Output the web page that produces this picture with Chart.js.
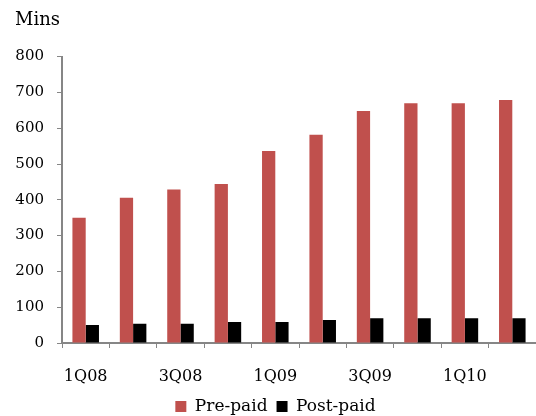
<!DOCTYPE html>
<html>
<head>
  <title>Mins per user</title>
  <script src="https://cdn.jsdelivr.net/npm/chart.js"></script>
  <style>
    body { margin: 0; padding: 0; background: #ffffff; }
    #wrap { width: 536px; height: 416px; }
  </style>
</head>
<body>
  <div id="wrap">
    <canvas id="minsChart" width="536" height="416"></canvas>
  </div>
  <script>
    // quarters
    const quarters = ["1Q08", "2Q08", "3Q08", "4Q08", "1Q09", "2Q09", "3Q09", "4Q09", "1Q10", "2Q10"];
    // minutes per user
    const prePaid = [350, 406, 429, 444, 536, 582, 648, 670, 670, 679];
    const postPaid = [50, 54, 54, 59, 59, 64, 69, 69, 69, 69];
    const yTicks = [0, 100, 200, 300, 400, 500, 600, 700, 800];

    const axisGrey = "#868686";
    const family = "'DejaVu Serif', serif";

    const ctx = document.getElementById("minsChart").getContext("2d");
    new Chart(ctx, {
      type: "bar",
      data: {
        labels: quarters,
        datasets: [
          {
            label: "Pre-paid",
            data: prePaid,
            backgroundColor: "#C0504D",
            barPercentage: 1,
            categoryPercentage: 0.56,
          },
          {
            label: "Post-paid",
            data: postPaid,
            backgroundColor: "#000000",
            barPercentage: 1,
            categoryPercentage: 0.56,
          },
        ],
      },
      options: {
        responsive: false,
        animation: false,
        layout: { padding: { left: 15, right: 0, top: 10, bottom: -9 } },
        plugins: {
          title: {
            display: true,
            text: "Mins",
            align: "start",
            color: "#000",
            font: { family: family, size: 18, weight: "normal" },
            padding: { top: 0, bottom: 25 },
          },
          legend: {
            position: "bottom",
            labels: {
              color: "#000",
              font: { family: family, size: 17 },
              boxWidth: 11,
              boxHeight: 11,
              padding: 9,
            },
          },
          tooltip: { enabled: false },
        },
        scales: {
          x: {
            offset: true,
            grid: {
              offset: true,
              drawOnChartArea: false,
              color: axisGrey,
              tickLength: 5,
            },
            border: { color: axisGrey, width: 2 },
            ticks: {
              autoSkip: false,
              maxRotation: 0,
              color: "#000",
              font: { family: family, size: 16 },
              padding: 19,
              callback: function (value, index) {
                return index % 2 === 0 ? quarters[index] : "";
              },
            },
            // chart.js counts tick padding twice; keep the axis band tight
            afterFit: function (scale) {
              scale.paddingLeft = 0;
              scale.paddingRight = 0;
              scale.height = 46;
            },
          },
          y: {
            min: 0,
            max: 800,
            afterBuildTicks: function (axis) {
              axis.ticks = yTicks.map((v) => ({ value: v }));
            },
            afterFit: function (scale) {
              scale.width = 47;
            },
            grid: {
              drawOnChartArea: false,
              color: axisGrey,
              tickLength: 5,
            },
            border: { color: axisGrey, width: 2 },
            ticks: {
              color: "#000",
              font: { family: family, size: 15 },
              padding: 13,
            },
          },
        },
      },
    });
  </script>
</body>
</html>
